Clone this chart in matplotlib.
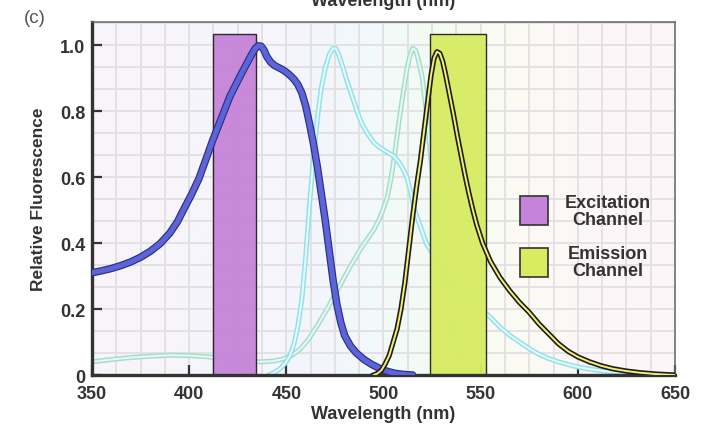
import numpy as np
import matplotlib
matplotlib.use("Agg")
import matplotlib.pyplot as plt
from matplotlib.colors import LinearSegmentedColormap
from matplotlib.patches import Rectangle
from matplotlib.ticker import MultipleLocator

plt.rcParams['font.family'] = ['Liberation Sans', 'DejaVu Sans']

# blue excitation spectrum (thick curve)
blue_nm = [350, 355, 360, 365, 370, 375, 380, 385, 390, 394, 397, 401, 405, 409, 412, 415,
           418, 421, 424, 427, 430, 432, 434, 435.5, 437, 438.5, 440, 442, 444, 446, 448,
           450, 452, 454, 456, 458, 460, 462, 464, 466, 468, 470, 472, 474, 476, 478, 480,
           483, 486, 490, 494, 498, 502, 506, 510, 515]
blue_val = [0.31, 0.316, 0.323, 0.332, 0.343, 0.357, 0.375, 0.398, 0.43, 0.465, 0.50, 0.545,
            0.595, 0.66, 0.71, 0.755, 0.80, 0.845, 0.88, 0.915, 0.948, 0.97, 0.99, 0.998,
            0.997, 0.985, 0.965, 0.948, 0.938, 0.932, 0.926, 0.918, 0.908, 0.896, 0.88,
            0.855, 0.815, 0.76, 0.70, 0.63, 0.55, 0.47, 0.38, 0.29, 0.215, 0.16, 0.12,
            0.088, 0.067, 0.047, 0.032, 0.02, 0.011, 0.005, 0.002, 0.0]

# faint cyan emission spectrum
cyan_nm = [441, 444, 447, 450, 452, 454, 456, 458, 460, 462, 464, 466, 468, 470, 472, 474,
           475.5, 477, 479, 481, 483, 485, 487, 489, 492, 495, 498, 502, 505, 508, 510, 512,
           514, 516, 519, 522, 530, 540, 550, 555, 560, 565, 570, 575, 580, 585, 590, 598,
           605, 612, 620, 630, 640]
cyan_val = [0.0, 0.008, 0.02, 0.04, 0.06, 0.095, 0.15, 0.23, 0.36, 0.52, 0.66, 0.78, 0.87,
            0.93, 0.97, 0.99, 0.99, 0.97, 0.935, 0.895, 0.86, 0.825, 0.79, 0.76, 0.73, 0.705,
            0.69, 0.675, 0.665, 0.645, 0.625, 0.60, 0.555, 0.50, 0.45, 0.40, 0.32, 0.25, 0.20,
            0.175, 0.145, 0.12, 0.10, 0.08, 0.063, 0.05, 0.04, 0.027, 0.019, 0.013, 0.009,
            0.005, 0.0]

# faint mint excitation spectrum
mint_nm = [350, 360, 370, 380, 390, 400, 410, 420, 430, 437, 443, 448, 453, 457, 461, 466,
           471, 477, 483, 488, 492, 495, 498, 500, 502, 504, 506, 508, 510, 512, 513.5, 515,
           516.5, 518, 520, 522, 525, 528, 531, 535, 540, 545, 550]
mint_val = [0.04, 0.047, 0.053, 0.057, 0.06, 0.059, 0.055, 0.048, 0.042, 0.04, 0.042, 0.048,
            0.06, 0.078, 0.105, 0.15, 0.20, 0.265, 0.33, 0.38, 0.415, 0.44, 0.475, 0.505,
            0.54, 0.60, 0.68, 0.77, 0.85, 0.925, 0.965, 0.99, 0.985, 0.955, 0.90, 0.80, 0.62,
            0.45, 0.30, 0.15, 0.06, 0.02, 0.0]

# yellow emission spectrum (outlined curve)
yellow_nm = [495, 497, 499, 501, 503, 505, 507, 509, 511, 513, 515, 517, 519, 521, 523,
             524.5, 526, 527.5, 529, 530.5, 532, 534, 536, 538, 540, 542, 544, 546, 548,
             551, 555, 560, 565, 570, 575, 580, 585, 590, 595, 600, 606, 612, 618, 625,
             632, 640, 650]
yellow_val = [0.0, 0.005, 0.015, 0.035, 0.06, 0.10, 0.14, 0.20, 0.28, 0.38, 0.48, 0.57, 0.65,
              0.745, 0.84, 0.91, 0.96, 0.98, 0.975, 0.95, 0.91, 0.85, 0.79, 0.725, 0.665,
              0.605, 0.55, 0.50, 0.455, 0.40, 0.345, 0.295, 0.255, 0.22, 0.19, 0.155, 0.125,
              0.095, 0.072, 0.055, 0.04, 0.028, 0.019, 0.012, 0.007, 0.003, 0.0]

# filter channels: start, width, height
channel_names = ['Excitation\nChannel', 'Emission\nChannel']
channel_start = [412.5, 524]
channel_width = [22, 29]
channel_height = [1.035, 1.035]
channel_colors = ['#c683da', '#d8ec62']

xticks = [350, 400, 450, 500, 550, 600, 650]
yticks = [0, 0.2, 0.4, 0.6, 0.8, 1.0]
ytick_labels = ['0', '0.2', '0.4', '0.6', '0.8', '1.0']

fig = plt.figure(figsize=(7.05, 4.27), dpi=100)
ax = fig.add_axes([0.1305, 0.1194, 0.8269, 0.8266])
ax.set_xlim(350, 650)
ax.set_ylim(0, 1.07)

# faint spectrum-tinted background
bg = LinearSegmentedColormap.from_list('bg', [
    (0.0, '#f8f5fa'), (0.3, '#f6f5fc'), (0.4, '#f3f6fc'), (0.5, '#f2fafa'),
    (0.6, '#f4fbf1'), (0.72, '#fbfbf3'), (0.85, '#fcf7f8'), (1.0, '#fcf6f8')])
ax.imshow(np.linspace(0, 1, 300).reshape(1, -1), cmap=bg, aspect='auto',
          extent=[350, 650, 0, 1.07], zorder=0)

ax.set_axisbelow(True)
ax.xaxis.set_minor_locator(MultipleLocator(12.5))
ax.yaxis.set_minor_locator(MultipleLocator(0.2 / 3))
ax.grid(which='both', color='#e3dfe3', linewidth=1.3)

# faint curves (behind the channel bars)
ax.plot(mint_nm, mint_val, color='#a4ddcb', lw=3.6, zorder=1, solid_capstyle='round')
ax.plot(mint_nm, mint_val, color='#e6f7f1', lw=1.5, zorder=1.1)
ax.plot(cyan_nm, cyan_val, color='#92e0e8', lw=3.6, zorder=1.2, solid_capstyle='round')
ax.plot(cyan_nm, cyan_val, color='#e4f9fb', lw=1.5, zorder=1.3)

ax.bar(channel_start, channel_height, width=channel_width, align='edge',
       color=channel_colors, edgecolor='#222222', linewidth=1.0, alpha=0.95, zorder=2)

ax.plot(blue_nm, blue_val, color='#2c2f80', lw=5.4, zorder=3, solid_capstyle='round',
        solid_joinstyle='round')
ax.plot(blue_nm, blue_val, color='#5d63d9', lw=3.7, zorder=3.1, solid_capstyle='round',
        solid_joinstyle='round')
ax.plot(yellow_nm, yellow_val, color='#1e1e1e', lw=3.8, zorder=3.2, solid_joinstyle='round')
ax.plot(yellow_nm, yellow_val, color='#f4f06c', lw=1.4, zorder=3.3, solid_joinstyle='round')

# legend drawn by hand
leg_y = [0.425, 0.278]
for name, col, y0 in zip(channel_names, channel_colors, leg_y):
    ax.add_patch(Rectangle((0.734, y0), 0.048, 0.082, transform=ax.transAxes,
                           facecolor=col, edgecolor='#333333', lw=1.2, zorder=5))
    ax.text(0.885, y0 + 0.041, name, transform=ax.transAxes, ha='center', va='center',
            multialignment='center', fontsize=13, fontweight='bold', color='#333333',
            linespacing=1.0, zorder=5)

ax.set_xticks(xticks)
ax.set_yticks(yticks)
ax.set_yticklabels(ytick_labels)
ax.tick_params(which='major', direction='in', length=7, width=1.6, color='#333333',
               labelsize=13, labelcolor='#333333', top=False, right=False)
ax.tick_params(axis='x', pad=7.5)
ax.tick_params(axis='y', pad=5)
ax.tick_params(which='minor', length=0)
for lab in ax.get_xticklabels() + ax.get_yticklabels():
    lab.set_fontweight('bold')

for side in ['left', 'bottom']:
    ax.spines[side].set_linewidth(2.4)
    ax.spines[side].set_color('#333333')
for side in ['top', 'right']:
    ax.spines[side].set_linewidth(1.1)
    ax.spines[side].set_color('#666666')

ax.set_xlabel('Wavelength (nm)', fontsize=13, fontweight='bold', color='#333333', labelpad=2)
ax.set_ylabel('Relative Fluorescence', fontsize=12.5, fontweight='bold', color='#333333',
              labelpad=10)

# cut-off title from the panel above and panel tag
fig.text(0.544, 1 - 6 / 427, 'Wavelength (nm)', ha='center', va='baseline', fontsize=13,
         fontweight='bold', color='#333333')
fig.text(0.034, 1 - 23 / 427, '(c)', ha='left', va='baseline', fontsize=13.5, color='#555555')

fig.savefig('out.png', dpi=100, facecolor='white')
